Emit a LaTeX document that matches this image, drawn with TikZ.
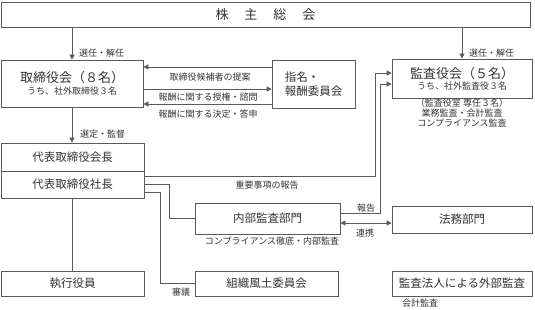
\documentclass[tikz,border=0pt]{standalone}
\usepackage{fontspec}
\setmainfont{Noto Sans CJK JP}
\usetikzlibrary{arrows.meta, positioning, calc}
\definecolor{linegray}{HTML}{595959}
\definecolor{textgray}{HTML}{333333}

\begin{document}
\begin{tikzpicture}[
    x=1pt, y=-1pt,
    box/.style={draw=linegray, line width=0.8pt, rectangle, inner sep=0pt, align=center, text=textgray, font=\fontsize{11.5}{13}\selectfont},
    lbl/.style={inner sep=0pt, text=textgray, font=\fontsize{9}{10}\selectfont},
    link/.style={draw=linegray, line width=0.8pt},
    arrow/.style={link, -{Triangle[length=5pt, width=5pt]}}
]
    \useasboundingbox (0,0) rectangle (535,310);

    % Boxes
    \node[box, minimum width=529pt, minimum height=25pt, font=\fontsize{13}{15}\selectfont] (soukai) at (265.5,14.5) {株\hspace{16pt}主\hspace{16pt}総\hspace{16pt}会};
    \node[box, minimum width=142pt, minimum height=47pt, font=\fontsize{9}{12}\selectfont] (bod) at (72,83.5) {{\fontsize{13}{14}\selectfont 取締役会（８名）}\\うち、社外取締役３名};
    \node[box, minimum width=83pt, minimum height=48pt, align=left, font=\fontsize{11.5}{14}\selectfont] (nrc) at (313.5,84) {指名・\\報酬委員会};
    \node[box, minimum width=140pt, minimum height=39pt, font=\fontsize{9}{11}\selectfont] (kansa) at (462,78.5) {{\fontsize{13}{14}\selectfont 監査役会（５名）}\\うち、社外監査役３名};
    \node[box, minimum width=143pt, minimum height=28pt] (chair) at (72.5,157) {代表取締役会長};
    \node[box, minimum width=143pt, minimum height=27pt] (pres) at (72.5,184.5) {代表取締役社長};
    \node[box, minimum width=145pt, minimum height=31pt] (naibu) at (267.5,218.5) {内部監査部門};
    \node[box, minimum width=140pt, minimum height=27pt] (homu) at (462,219.5) {法務部門};
    \node[box, minimum width=143pt, minimum height=25pt] (shikko) at (72.5,283.5) {執行役員};
    \node[box, minimum width=143pt, minimum height=25pt] (soshiki) at (266.5,283.5) {組織風土委員会};
    \node[box, minimum width=140pt, minimum height=25pt] (gaibu) at (462,283.5) {監査法人による外部監査};

    % Turning points
    \coordinate (r1) at (0,67);
    \coordinate (r2) at (0,89);
    \coordinate (r3) at (0,104);
    \coordinate (in1) at (0,73);
    \coordinate (in2) at (0,84);
    \coordinate (up1) at (375,176);
    \coordinate (up2) at (380,213);
    \coordinate (br1) at (169,184);
    \coordinate (br2) at (160,192);
    \coordinate (r6) at (0,223);

    % Connectors
    \draw[arrow] (soukai.south -| bod.north) -- (bod.north);
    \draw[arrow] (soukai.south -| kansa.north) -- (kansa.north);
    \draw[arrow] (nrc.west |- r1) -- (bod.east |- r1);
    \draw[arrow] (bod.east |- r2) -- (nrc.west |- r2);
    \draw[arrow] (nrc.west |- r3) -- (bod.east |- r3);
    \draw[arrow] (bod.south) -- (bod.south |- chair.north);
    \draw[link] (pres.south -| shikko.north) -- (shikko.north);
    \draw[arrow] (pres.east |- up1) -- (up1) |- (kansa.west |- in1);
    \draw[arrow] (naibu.east |- up2) -- (up2) |- (kansa.west |- in2);
    \draw[link] (pres.east |- br1) -- (br1) |- (naibu.west);
    \draw[link] (pres.east |- br2) -- (br2) |- (soshiki.west);
    \draw[link, {Triangle[length=5pt, width=5pt]}-{Triangle[length=5pt, width=5pt]}] (naibu.east |- r6) -- (homu.west |- r6);

    % Labels
    \node[lbl, anchor=west] (l-sennin1) at (79,53) {選任・解任};
    \node[lbl, anchor=west] (l-sennin2) at (469,53) {選任・解任};
    \node[lbl] (l-teian) at (210,77) {取締役候補者の提案};
    \node[lbl] (l-shimon) at (208,97) {報酬に関する授権・諮問};
    \node[lbl] (l-toshin) at (208,114) {報酬に関する決定・答申};
    \node[lbl, anchor=west] (l-sentei) at (80,134) {選定・監督};
    \node[lbl, align=center, font=\fontsize{9}{10}\selectfont] (l-kansa) at (462,113) {（監査役室\ 専任３名）\\業務監査・会計監査\\コンプライアンス監査};
    \node[lbl] (l-juyo) at (267,185) {重要事項の報告};
    \node[lbl] (l-hokoku) at (366,208) {報告};
    \node[lbl] (l-renkei) at (365,233) {連携};
    \node[lbl] (l-compl) at (272,241) {コンプライアンス徹底・内部監査};
    \node[lbl] (l-shingi) at (181,292) {審議};
    \node[lbl, anchor=west] (l-kaikei) at (402,303) {会計監査};
\end{tikzpicture}
\end{document}
